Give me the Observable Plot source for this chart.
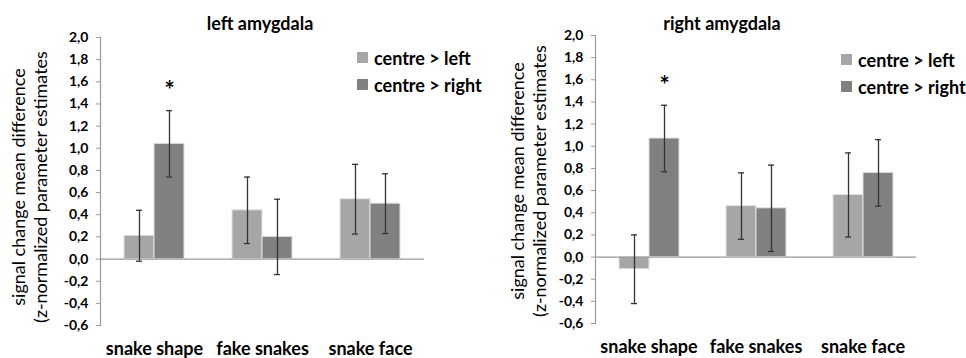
<!DOCTYPE html>
<html>
<head>
<meta charset="utf-8">
<script src="https://cdn.jsdelivr.net/npm/d3@7"></script>
<script src="https://cdn.jsdelivr.net/npm/@observablehq/plot@0.6"></script>
<style>
  body { margin: 0; background: #fff; font-family: Lato, "Open Sans", sans-serif; }
  #root { position: relative; width: 966px; height: 358px; overflow: hidden; }
  .panel { position: absolute; top: 0; width: 483px; height: 358px; }
  .panel svg { position: absolute; left: 0; top: 0; }
  .title { position: absolute; font-weight: bold; font-size: 18px; line-height: 22px; white-space: nowrap; transform: translateX(-50%); }
  .ylab { position: absolute; font-size: 18px; line-height: 22px; white-space: nowrap; text-align: center; transform: translate(-50%, -50%) rotate(-90deg); }
  .legend { position: absolute; font-weight: bold; font-size: 18px; }
  .legend .row { display: flex; align-items: center; height: 27px; white-space: nowrap; }
  .legend .sw { width: 11px; height: 11px; margin-right: 6px; flex: none; }
</style>
</head>
<body>
<div id="root"></div>
<script>
// Stimulus categories and contrasts
const categories = ["snake shape", "fake snakes", "snake face"];
const contrasts = ["centre > left", "centre > right"];
const barColors = ["#a6a6a6", "#808080"];

// Left amygdala: mean difference and error (per category)
const leftCentreLeft = [0.21, 0.44, 0.54];
const leftCentreLeftErr = [0.23, 0.30, 0.315];
const leftCentreRight = [1.04, 0.20, 0.50];
const leftCentreRightErr = [0.30, 0.34, 0.27];
const leftStarsRight = ["*", "", ""];

// Right amygdala
const rightCentreLeft = [-0.11, 0.46, 0.56];
const rightCentreLeftErr = [0.31, 0.30, 0.38];
const rightCentreRight = [1.07, 0.44, 0.76];
const rightCentreRightErr = [0.30, 0.39, 0.30];
const rightStarsRight = ["*", "", ""];

// Y axis ticks
const yTicks = [-0.6, -0.4, -0.2, 0, 0.2, 0.4, 0.6, 0.8, 1.0, 1.2, 1.4, 1.6, 1.8, 2.0];
const yTickLabels = ["-0,6", "-0,4", "-0,2", "0,0", "0,2", "0,4", "0,6", "0,8", "1,0", "1,2", "1,4", "1,6", "1,8", "2,0"];

const yLabelLines = ["signal change mean difference", "(z-normalized parameter estimates"];

const axisColor = "#9a9a9a";
const errColor = "#333333";

function buildRows(cl, clErr, cr, crErr, starsRight) {
  const rows = [];
  categories.forEach((c, i) => {
    rows.push({category: c, contrast: contrasts[0], value: cl[i], err: clErr[i], star: ""});
    rows.push({category: c, contrast: contrasts[1], value: cr[i], err: crErr[i], star: starsRight[i]});
  });
  return rows;
}

function chart(rows, m) {
  return Plot.plot({
    width: 483,
    height: 358,
    marginLeft: m.left,
    marginRight: m.right,
    marginTop: m.top,
    marginBottom: m.bottom,
    style: {fontFamily: "Lato, 'Open Sans', sans-serif", color: "#000", background: "transparent", overflow: "visible"},
    fx: {domain: categories, padding: 0, label: null},
    x: {domain: contrasts, paddingInner: 0, paddingOuter: 0.75, axis: null},
    y: {domain: [-0.6, 2.0], axis: null},
    color: {domain: contrasts, range: barColors},
    marks: [
      Plot.barY(rows, {fx: "category", x: "contrast", y: "value", fill: "contrast", stroke: "#e2e2e2", strokeWidth: 1}),
      Plot.ruleY([0], {stroke: axisColor, strokeWidth: 1.2}),
      Plot.frame({anchor: "left", facetAnchor: "left", stroke: axisColor, strokeWidth: 1.2}),
      Plot.axisY({
        ticks: yTicks,
        tickFormat: d => yTickLabels[yTicks.indexOf(d)],
        tickSize: 4,
        tickPadding: 8,
        stroke: axisColor,
        fill: "#000",
        fontSize: 14,
        fontWeight: "bold",
        label: null
      }),
      Plot.ruleX(rows, {fx: "category", x: "contrast", y1: d => d.value - d.err, y2: d => d.value + d.err, stroke: errColor, strokeWidth: 1.3}),
      Plot.tickY(rows, {fx: "category", x: "contrast", y: d => d.value - d.err, stroke: errColor, strokeWidth: 1.3, insetLeft: 12, insetRight: 12}),
      Plot.tickY(rows, {fx: "category", x: "contrast", y: d => d.value + d.err, stroke: errColor, strokeWidth: 1.3, insetLeft: 12, insetRight: 12}),
      Plot.text(rows.filter(d => d.star), {fx: "category", x: "contrast", y: d => d.value + d.err, text: "star", dy: -19, fontSize: 24, fontWeight: "bold", fill: "#000"}),
      Plot.axisFx({anchor: "bottom", tickSize: 0, tickPadding: 17, fontSize: 18, fontWeight: "bold", fill: "#000", label: null})
    ]
  });
}

function panel(offsetX, rows, m, layout) {
  const div = document.createElement("div");
  div.className = "panel";
  div.style.left = offsetX + "px";
  div.appendChild(chart(rows, m));

  const title = document.createElement("div");
  title.className = "title";
  title.textContent = layout.title;
  title.style.left = layout.titleX + "px";
  title.style.top = layout.titleY + "px";
  div.appendChild(title);

  const ylab = document.createElement("div");
  ylab.className = "ylab";
  ylab.innerHTML = yLabelLines.join("<br>");
  ylab.style.left = layout.ylabX + "px";
  ylab.style.top = layout.ylabY + "px";
  div.appendChild(ylab);

  const legend = document.createElement("div");
  legend.className = "legend";
  legend.style.left = layout.legendX + "px";
  legend.style.top = layout.legendY + "px";
  contrasts.forEach((c, i) => {
    const row = document.createElement("div");
    row.className = "row";
    const sw = document.createElement("span");
    sw.className = "sw";
    sw.style.background = barColors[i];
    const label = document.createElement("span");
    label.textContent = c;
    row.appendChild(sw);
    row.appendChild(label);
    legend.appendChild(row);
  });
  div.appendChild(legend);
  return div;
}

const root = document.getElementById("root");
root.appendChild(panel(0,
  buildRows(leftCentreLeft, leftCentreLeftErr, leftCentreRight, leftCentreRightErr, leftStarsRight),
  {left: 100, right: 59, top: 37, bottom: 33},
  {title: "left amygdala", titleX: 260, titleY: 12, ylabX: 29, ylabY: 187, legendX: 357, legendY: 44}));
root.appendChild(panel(483,
  buildRows(rightCentreLeft, rightCentreLeftErr, rightCentreRight, rightCentreRightErr, rightStarsRight),
  {left: 111, right: 50, top: 35, bottom: 35},
  {title: "right amygdala", titleX: 239, titleY: 12, ylabX: 45, ylabY: 181, legendX: 358, legendY: 46}));
</script>
</body>
</html>
